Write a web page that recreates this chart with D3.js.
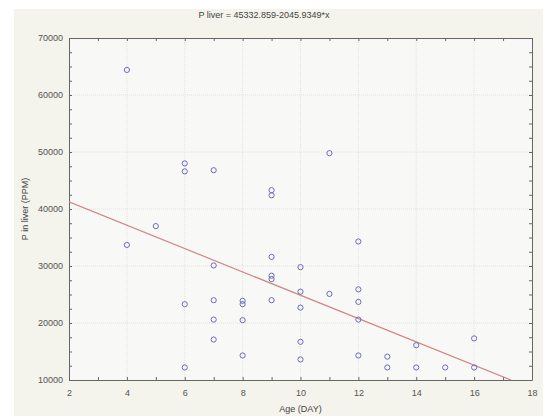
<!DOCTYPE html>
<html><head><meta charset="utf-8">
<script src="https://cdn.jsdelivr.net/npm/d3@7"></script>
<style>body{margin:0;background:#fff}svg{display:block}</style>
</head><body>
<script>
const ageDays = [4,4,5,6,6,6,6,7,7,7,7,7,8,8,8,8,9,9,9,9,9,9,10,10,10,10,10,11,11,12,12,12,12,12,13,13,14,14,15,16,16];
const pLiver  = [64400,33700,37000,48000,46600,23300,12200,46800,30100,24000,20600,17100,23900,23300,20500,14300,43300,42400,31600,28300,27700,24000,29800,25500,22700,16700,13600,49800,25100,34300,25900,23700,20600,14300,14100,12200,16100,12200,12200,17300,12200];
const intercept = 45332.859, slope = -2045.9349;
const titleText = "P  liver = 45332.859-2045.9349*x";
const xLabel = "Age (DAY)", yLabel = "P in liver (PPM)";
const xTicks = [2,4,6,8,10,12,14,16,18];
const yTicks = [10000,20000,30000,40000,50000,60000,70000];

const W = 552, H = 418;
const svg = d3.select("body").append("svg").attr("width", W).attr("height", H)
  .style("font-family", "'Liberation Sans', Arial, sans-serif");
svg.append("rect").attr("x", 14).attr("y", 9).attr("width", 529).attr("height", 407).attr("fill", "#f4f3ec");

const L = 69, R = 532, T = 38, B = 380;
const x = d3.scaleLinear().domain([2, 18]).range([L, R]);
const y = d3.scaleLinear().domain([10000, 70000]).range([B, T]);

svg.append("rect").attr("x", L).attr("y", T).attr("width", R - L).attr("height", B - T).attr("fill", "#f8f8f7");

// grid
const g = svg.append("g");
g.selectAll(".gx").data(xTicks.slice(1, -1)).enter().append("line")
  .attr("x1", d => x(d)).attr("x2", d => x(d)).attr("y1", T).attr("y2", B)
  .attr("stroke", "#e2e2e2").attr("stroke-width", 1).attr("stroke-dasharray", "1,1");
g.selectAll(".gy").data(yTicks.slice(1, -1)).enter().append("line")
  .attr("y1", d => y(d)).attr("y2", d => y(d)).attr("x1", L).attr("x2", R)
  .attr("stroke", "#e2e2e2").attr("stroke-width", 1).attr("stroke-dasharray", "1,1");

// axes (inward ticks)
const xMinor = d3.range(2, 18.01, 1), yMinor = d3.range(10000, 70001, 2500);
const axCol = "#666";
function addAxis(gen, tx, ty) {
  const a = svg.append("g").attr("transform", `translate(${tx},${ty})`).call(gen);
  a.select(".domain").attr("stroke", axCol);
  a.selectAll(".tick line").attr("stroke", axCol);
  a.selectAll("text").attr("fill", "#555").attr("font-size", 9);
  return a;
}
// bottom
const axB = addAxis(d3.axisBottom(x).tickValues(xMinor).tickSize(-3).tickSizeOuter(0)
  .tickFormat(d => xTicks.includes(d) ? d : ""), 0, B);
axB.selectAll("text").attr("dy", "1.4em");
addAxis(d3.axisTop(x).tickValues(xMinor).tickSize(-3).tickSizeOuter(0).tickFormat(""), 0, T);
const axL = addAxis(d3.axisLeft(y).tickValues(yMinor).tickSize(-3).tickSizeOuter(0)
  .tickFormat(d => yTicks.includes(d) ? d : ""), L, 0);
axL.selectAll("text").attr("x", -6);
addAxis(d3.axisRight(y).tickValues(yMinor).tickSize(-3).tickSizeOuter(0).tickFormat(""), R, 0);

// clip
svg.append("clipPath").attr("id", "clip").append("rect").attr("x", L).attr("y", T).attr("width", R - L).attr("height", B - T);

// regression line
const xEnd = (10000 - intercept) / slope;
const lineData = [[2, intercept + slope * 2], [xEnd, 10000]];
svg.append("path").attr("clip-path", "url(#clip)")
  .attr("d", d3.line().x(d => x(d[0])).y(d => y(d[1]))(lineData))
  .attr("stroke", "#d38585").attr("stroke-width", 1.2).attr("fill", "none");

// points
svg.append("g").selectAll("circle").data(ageDays.map((a, i) => [a, pLiver[i]])).enter()
  .append("circle").attr("cx", d => x(d[0])).attr("cy", d => y(d[1])).attr("r", 2.6)
  .attr("fill", "none").attr("stroke", "#6c6cbc").attr("stroke-width", 1);

// texts
svg.append("text").attr("x", 264).attr("y", 18).attr("text-anchor", "middle")
  .attr("font-size", 9).attr("fill", "#444").text(titleText);
svg.append("text").attr("x", (L + R) / 2).attr("y", 412).attr("text-anchor", "middle")
  .attr("font-size", 9).attr("fill", "#444").text(xLabel);
svg.append("text").attr("transform", `translate(28,${(T + B) / 2 - 0}) rotate(-90)`).attr("text-anchor", "middle")
  .attr("font-size", 9).attr("fill", "#444").text(yLabel);
</script>
</body></html>
